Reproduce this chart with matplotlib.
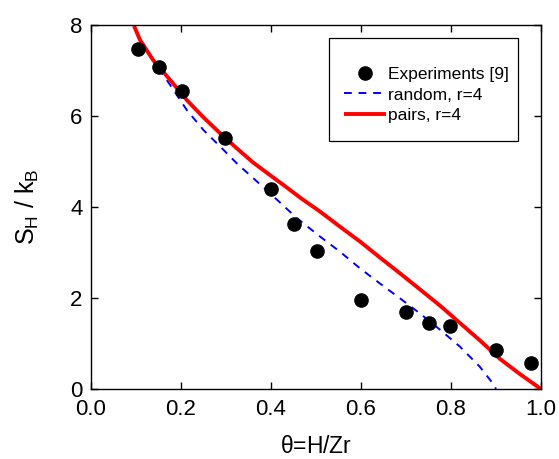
import matplotlib
matplotlib.use("Agg")
import matplotlib.pyplot as plt
from matplotlib.patches import Rectangle

plt.rcParams['font.family'] = ['Liberation Sans', 'DejaVu Sans']
plt.rcParams['mathtext.fontset'] = 'custom'
plt.rcParams['mathtext.rm'] = 'Liberation Sans'

exp_theta = [0.105, 0.150, 0.203, 0.298, 0.400, 0.451, 0.503, 0.601, 0.700, 0.750, 0.798, 0.901, 0.977]
exp_S = [7.47, 7.08, 6.56, 5.51, 4.39, 3.63, 3.04, 1.96, 1.70, 1.46, 1.39, 0.86, 0.58]

rand_theta = [0.150, 0.176, 0.213, 0.250, 0.287, 0.324, 0.361, 0.398, 0.457, 0.509, 0.553,
              0.598, 0.642, 0.687, 0.731, 0.776, 0.820, 0.864, 0.894, 0.900]
rand_S = [7.05, 6.68, 6.13, 5.69, 5.33, 4.96, 4.63, 4.30, 3.76, 3.35, 3.02,
          2.65, 2.32, 1.99, 1.66, 1.30, 0.93, 0.49, 0.11, 0.0]

pair_theta = [0.0956, 0.109, 0.138, 0.176, 0.213, 0.249, 0.287, 0.324, 0.360, 0.398, 0.435,
              0.467, 0.509, 0.553, 0.598, 0.642, 0.687, 0.731, 0.776, 0.820, 0.864, 0.909,
              0.953, 1.0]
pair_S = [7.98, 7.67, 7.23, 6.79, 6.35, 5.98, 5.62, 5.29, 4.98, 4.70, 4.43,
          4.19, 3.90, 3.57, 3.24, 2.89, 2.54, 2.19, 1.83, 1.45, 1.07, 0.66,
          0.33, 0.0]

fig = plt.figure(figsize=(5.59, 4.59), dpi=100)
ax = fig.add_axes([91/559, 1-389/459, 450/559, 364/459])

ax.plot(exp_theta, exp_S, 'o', color='black', markersize=9.5, label='Experiments [9]', zorder=3)
ax.plot(rand_theta, rand_S, '--', color='blue', lw=1.4, dashes=(4, 3.5), label='random, r=4')
ax.plot(pair_theta, pair_S, '-', color='red', lw=2.8, label='pairs, r=4', solid_capstyle='butt')

ax.set_xlim(0, 1.0)
ax.set_ylim(0, 8)
ax.set_xticks([0.0, 0.2, 0.4, 0.6, 0.8, 1.0])
ax.set_yticks([0, 2, 4, 6, 8])
ax.set_xticklabels(['0.0', '0.2', '0.4', '0.6', '0.8', '1.0'])
ax.tick_params(direction='in', top=True, right=True, labelsize=16, length=5, width=1, pad=6)
ax.tick_params(axis='x', pad=7)
for s in ax.spines.values():
    s.set_linewidth(1.0)

ax.set_xlabel(r'$\mathregular{\theta}$=H/Zr', fontsize=16.5)
ax.set_ylabel(r'S$_\mathregular{H}$ / k$_\mathregular{B}$', fontsize=18)
ax.xaxis.set_label_coords(0.5, -0.127)
ax.yaxis.set_label_coords(-0.111, 0.5)

# legend frame
ax.add_patch(Rectangle(((329-91)/450, (389-141)/364), (518-329)/450, (141-38)/364,
                       transform=ax.transAxes, fill=False, edgecolor='black', lw=0.9,
                       zorder=4, clip_on=False))
leg = ax.legend(loc='center left', bbox_to_anchor=((344-91)/450, (389-95)/364), fontsize=12.5,
                frameon=False, handlelength=2.4, handletextpad=0.15,
                borderpad=0, labelspacing=0.3, borderaxespad=0)

fig.savefig('out.png', dpi=100)
